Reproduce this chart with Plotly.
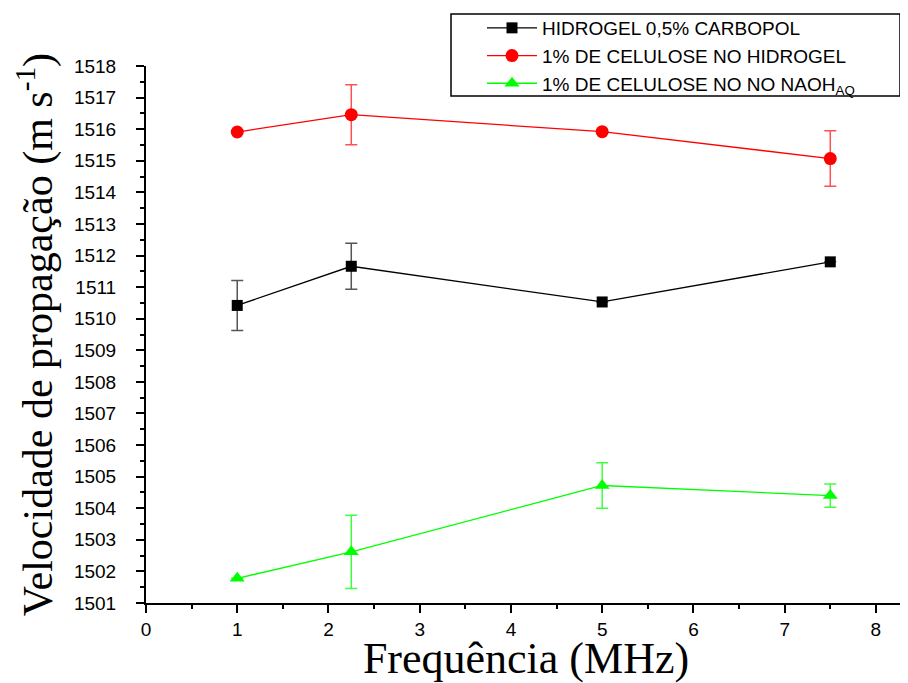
import plotly.graph_objects as go

freq = [1, 2.25, 5, 7.5]

carbopol = [1510.42, 1511.66, 1510.53, 1511.80]
carbopol_err = [0.79, 0.73, 0, 0]

celulose_hidrogel = [1515.91, 1516.46, 1515.92, 1515.07]
celulose_hidrogel_err = [0, 0.95, 0, 0.88]

celulose_naoh = [1501.78, 1502.62, 1504.72, 1504.40]
celulose_naoh_err = [0, 1.16, 0.72, 0.37]

names = ["HIDROGEL 0,5% CARBOPOL",
         "1% DE CELULOSE NO HIDROGEL",
         "1% DE CELULOSE NO NO NAOH<sub>AQ</sub>"]

x_ticks = [0, 1, 2, 3, 4, 5, 6, 7, 8]
y_ticks = list(range(1501, 1519))

series = [
    (carbopol, carbopol_err, names[0], "#000000", "#555555", "square", 11),
    (celulose_hidrogel, celulose_hidrogel_err, names[1], "#ff0000", "#ff5050", "circle", 13),
    (celulose_naoh, celulose_naoh_err, names[2], "#00ff00", "#40ff40", "triangle-up", 13),
]

fig = go.Figure()
for ys, errs, name, col, ecol, sym, sz in series:
    fig.add_trace(go.Scatter(
        x=freq, y=ys, name=name, mode="lines+markers",
        line=dict(color=col, width=1.3),
        marker=dict(symbol=sym, size=sz, color=col),
        error_y=dict(type="data", array=errs, visible=True,
                     color=ecol, thickness=1.5, width=6),
    ))

tick_font = dict(family="Liberation Sans, Arial", size=19, color="black")

# page body has an 8px margin, so the figure is 900x675 placed at (8, 8)
fig.update_layout(
    width=900, height=675,
    margin=dict(l=138, r=2, t=57, b=80),
    paper_bgcolor="white", plot_bgcolor="white",
    showlegend=True,
    legend=dict(
        x=(482 - 146) / 760, xanchor="left",
        y=(603 - 9) / 538, yanchor="top",
        font=dict(family="Liberation Sans, Arial", size=19, color="black"),
        bgcolor="rgba(0,0,0,0)", borderwidth=0,
        itemwidth=50, tracegroupgap=0,
    ),
    shapes=[dict(type="rect", xref="paper", yref="paper",
                 x0=(451 - 146) / 760, x1=(900 - 146) / 760,
                 y0=(603 - 95) / 538, y1=(603 - 13) / 538,
                 line=dict(color="black", width=1.5), fillcolor="rgba(0,0,0,0)")],
    xaxis=dict(
        range=[0, 8.33], tickvals=x_ticks, showgrid=False, zeroline=False,
        showline=True, linecolor="black", linewidth=2, automargin=False,
        ticks="outside", ticklen=8, tickwidth=2, tickcolor="black",
        minor=dict(dtick=0.5, ticks="outside", ticklen=4, tickwidth=2, tickcolor="black"),
        tickfont=tick_font,
        title=dict(text="Frequência (MHz)",
                   font=dict(family="Liberation Serif, Times New Roman", size=44, color="black"),
                   standoff=0),
    ),
    yaxis=dict(
        range=[1501, 1518], tickvals=y_ticks, showgrid=False, zeroline=False,
        showline=True, linecolor="black", linewidth=2, automargin=False,
        ticks="outside", ticklen=8, tickwidth=2, tickcolor="black",
        ticklabelstandoff=16,
        minor=dict(dtick=0.5, ticks="outside", ticklen=4, tickwidth=2, tickcolor="black"),
        tickfont=tick_font,
        title=dict(text="Velocidade de propagação (m s<sup>-1</sup>)",
                   font=dict(family="Liberation Serif, Times New Roman", size=42, color="black"),
                   standoff=8),
    ),
)

fig.write_html("out.html")
